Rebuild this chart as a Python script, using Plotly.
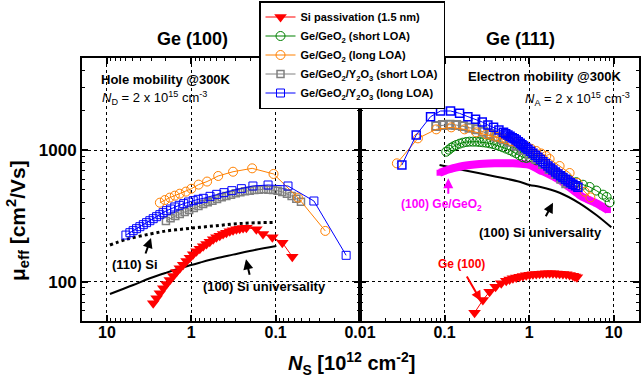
import plotly.graph_objects as go

# ---------------- Left panel: Ge(100) hole mobility ----------------
hole_si_pass_ns = [2.83, 2.58, 2.36, 2.15, 1.97, 1.80, 1.64, 1.50, 1.37, 1.25, 1.14, 1.04, 0.951, 0.869,
                   0.793, 0.724, 0.661, 0.604, 0.551, 0.504, 0.460, 0.420, 0.384, 0.350, 0.320, 0.292,
                   0.267, 0.2435, 0.2224, 0.1694, 0.1413, 0.1095, 0.0834, 0.0635]
hole_si_pass_mu = [68.5, 74.8, 81.6, 89.0, 96.0, 103.0, 110.5, 118.5, 126.3, 134.7, 143.6, 152.2, 161.4, 170.1,
                   178.2, 185.6, 193.3, 201.4, 209.8, 217.3, 223.7, 230.3, 235.7, 241.2, 245.5, 249.8,
                   252.7, 255.7, 257.2, 249.8, 230.3, 217.3, 197.9, 155.0]

hole_y2o3_long_ns = [5.96, 5.35, 4.89, 4.46, 4.07, 3.71, 3.39, 3.10, 2.83, 2.58, 2.36, 2.16, 1.97, 1.76, 1.57,
                     1.39, 1.23, 1.08, 0.95, 0.83, 0.72, 0.60, 0.50, 0.41, 0.33, 0.255, 0.186, 0.123,
                     0.0714, 0.0352, 0.0146]
hole_y2o3_long_mu = [226, 235.7, 244.1, 252.7, 261.7, 271.0, 280.7, 290.6, 301.0, 311.7, 322.8, 334.3, 346.2,
                     356.5, 369.2, 380.2, 391.4, 402.9, 412.4, 422.1, 429.5, 444.8, 460.7, 474.3, 491.2,
                     508.7, 533.0, 542.4, 533.0, 410.0, 158.6]

hole_y2o3_short_ns = [2.00, 1.76, 1.55, 1.37, 1.20, 1.06, 0.934, 0.823, 0.724, 0.638, 0.562, 0.495, 0.436,
                      0.384, 0.338, 0.297, 0.262, 0.231, 0.203, 0.179, 0.1575, 0.1387, 0.1221, 0.1075,
                      0.0947, 0.0834, 0.0734, 0.0647, 0.0569, 0.0501]
hole_y2o3_short_mu = [289, 303, 315, 327, 338, 350, 363, 376, 389, 401, 412, 425, 437, 448, 458, 469, 477,
                      486, 491, 497, 500, 503, 500, 497, 491, 480, 466, 448, 427, 405]

hole_geo2_long_ns = [2.36, 2.06, 1.80, 1.57, 1.37, 1.16, 1.00, 0.82, 0.65, 0.48, 0.32, 0.19, 0.106, 0.0544, 0.0258]
hole_geo2_long_mu = [398, 417, 435, 450, 466, 483, 508, 546, 576, 635, 684, 726, 658, 435, 243]

hole_si110_ns = [9.22, 5.85, 3.10, 1.97, 1.25, 0.793, 0.504, 0.320, 0.203, 0.1028]
hole_si110_mu = [190, 210, 230, 243, 251, 259, 266, 274, 279, 282]

hole_si100_ns = [9.22, 4.88, 3.10, 1.97, 1.25, 0.793, 0.504, 0.320, 0.203, 0.0982]
hole_si100_mu = [80.7, 94.4, 106.1, 117.2, 128.6, 139.5, 150.5, 160.5, 171.1, 186.7]

# ---------------- Right panel: Ge(111) electron mobility ----------------
elec_ge100_ns = [0.2265, 0.284, 0.3407, 0.4015, 0.4685, 0.5368, 0.5877, 0.6436, 0.705, 0.772, 0.845, 0.926,
                 1.014, 1.110, 1.217, 1.331, 1.457, 1.597, 1.748, 1.913, 2.099, 2.296, 2.512, 2.754, 3.015,
                 3.299, 3.48, 3.68]
elec_ge100_mu = [58.2, 72.6, 83.9, 91.6, 97.2, 101.8, 103.9, 106.1, 107.6, 109.1, 110.5, 111.8, 112.8, 113.8,
                 114.4, 115.0, 115.4, 115.8, 115.8, 115.8, 115.4, 115.0, 114.4, 113.8, 112.4, 111.1, 109.5, 108.0]

elec_geo2_short_ns = [0.1046, 0.1125, 0.120, 0.1278, 0.1374, 0.1505, 0.1648, 0.1805, 0.1976, 0.2164, 0.2370,
                      0.2596, 0.2842, 0.3113, 0.3408, 0.3733, 0.4088, 0.4476, 0.490, 0.537, 0.5877, 0.6437,
                      0.705, 0.772, 0.845, 0.926, 1.014, 1.216, 1.458, 1.748, 2.097, 2.514, 3.015, 3.615,
                      4.335, 5.20, 6.235, 7.48, 8.26, 8.97]
elec_geo2_short_mu = [971, 1006, 1041, 1066, 1091, 1117, 1137, 1150, 1157, 1157, 1157, 1150, 1144, 1137, 1124,
                      1111, 1091, 1072, 1048, 1024, 1000, 971, 943, 911, 880, 870, 880, 835, 790, 730, 672,
                      625, 592, 570, 545, 524, 492, 458, 440, 400]

elec_geo2_long_ns = [0.0273, 0.0484, 0.0797, 0.120, 0.1724, 0.2370, 0.3113, 0.3566, 0.4088, 0.4684, 0.537,
                     0.6152, 0.705, 0.808, 0.926, 1.061, 1.216, 1.393, 1.597, 1.748, 2.296, 3.015, 3.75,
                     4.54, 5.30]
elec_geo2_long_mu = [792, 1226, 1435, 1486, 1435, 1362, 1315, 1289, 1262, 1233, 1205, 1170, 1137, 1098, 1060,
                     1021, 983, 941, 900, 855, 756, 669, 562, 482, 437]

elec_y2o3_short_ns = [0.0797, 0.0956, 0.1146, 0.1374, 0.1648, 0.1976, 0.2370, 0.2842, 0.3408, 0.4088, 0.490,
                      0.5877, 0.705, 0.845, 1.014, 1.216, 1.458, 1.748, 2.097, 2.403, 2.754]
elec_y2o3_short_mu = [1521, 1548, 1557, 1548, 1521, 1478, 1435, 1378, 1323, 1262, 1205, 1157, 1079, 1000,
                      927, 855, 783, 717, 657, 606, 558]

elec_y2o3_long_ns = [0.0313, 0.0462, 0.0683, 0.0897, 0.1178, 0.1505, 0.1889, 0.2328, 0.2792, 0.3257, 0.380,
                     0.4395, 0.499, 0.529, 0.5616, 0.596, 0.632, 0.667, 0.705, 0.744, 0.786, 0.823, 0.861,
                     0.913, 0.969, 1.037, 1.11, 1.188, 1.272, 1.362, 1.458, 1.561, 1.671, 1.788, 1.914,
                     2.049, 2.194, 2.349, 2.514, 2.691, 2.88, 3.083, 3.30, 3.532, 3.78]
elec_y2o3_long_mu = [769, 1300, 1791, 1978, 1978, 1898, 1791, 1710, 1632, 1548, 1486, 1419, 1362, 1331, 1300,
                     1270, 1241, 1216, 1191, 1157, 1124, 1098, 1072, 1042, 1012, 977, 943, 911, 880, 847, 815,
                     785, 756, 730, 705, 681, 657, 637, 617, 599, 582, 565, 549, 535, 521]

elec_ge100_geo2_ns = [0.0873, 0.098, 0.1146, 0.135, 0.1647, 0.2, 0.2596, 0.33, 0.409, 0.5, 0.643, 0.8,
                      1.014, 1.331, 1.6, 2.296, 2.9, 3.96, 5.0, 6.24, 7.3, 8.56]
elec_ge100_geo2_mu = [672, 690, 714, 735, 756, 770, 783, 790, 793, 795, 793, 785, 769, 705, 670, 592, 530,
                      455, 420, 394, 372, 350]

elec_si100_ns = [0.0873, 0.1647, 0.409, 0.772, 1.014, 1.331, 2.296, 3.96, 6.24, 9.39]
elec_si100_mu = [769, 705, 627, 574, 542, 526, 474, 394, 321, 259]

# tick labels
left_tickvals = [10, 1, 0.1]
left_ticktext = ["10", "1", "0.1"]
right_tickvals = [0.01, 0.1, 1, 10]
right_ticktext = ["0.01", "0.1", "1", "10"]
y_tickvals = [100, 1000]
y_ticktext = ["100", "1000"]

FONT = "Liberation Sans, Arial, sans-serif"
RED = "#FF0000"
GREEN = "#008000"
ORANGE = "#FF8000"
GRAY = "#808080"
BLUE = "#0000FF"
MAGENTA = "#FF00FF"

fig = go.Figure()

# ---- left panel traces (x, y) ----
fig.add_trace(go.Scatter(x=hole_si100_ns, y=hole_si100_mu, mode="lines",
                         line=dict(color="black", width=2, shape="spline"),
                         showlegend=False, xaxis="x", yaxis="y"))
fig.add_trace(go.Scatter(x=hole_si110_ns, y=hole_si110_mu, mode="lines",
                         line=dict(color="black", width=3, dash="dot", shape="spline"),
                         showlegend=False, xaxis="x", yaxis="y"))
fig.add_trace(go.Scatter(x=hole_si_pass_ns, y=hole_si_pass_mu, mode="lines+markers", name="Si passivation (1.5 nm)",
                         line=dict(color=RED, width=1), marker=dict(symbol="triangle-down", size=11, color=RED),
                         legendgroup="red", legendrank=1, xaxis="x", yaxis="y"))
fig.add_trace(go.Scatter(x=[None], y=[None], mode="lines+markers", name="Ge/GeO<sub>2</sub> (short LOA)",
                         line=dict(color=GREEN, width=1),
                         marker=dict(symbol="circle-open", size=9, color=GREEN, line=dict(width=1)),
                         legendgroup="green", legendrank=2, xaxis="x", yaxis="y"))
fig.add_trace(go.Scatter(x=hole_y2o3_short_ns, y=hole_y2o3_short_mu, mode="lines+markers",
                         name="Ge/GeO<sub>2</sub>/Y<sub>2</sub>O<sub>3</sub> (short LOA)",
                         line=dict(color=GRAY, width=1),
                         marker=dict(symbol="square-open", size=7, color=GRAY, line=dict(width=1.5)),
                         legendgroup="gray", legendrank=4, xaxis="x", yaxis="y"))
fig.add_trace(go.Scatter(x=hole_geo2_long_ns, y=hole_geo2_long_mu, mode="lines+markers",
                         name="Ge/GeO<sub>2</sub> (long LOA)",
                         line=dict(color=ORANGE, width=1),
                         marker=dict(symbol="circle-open", size=9, color=ORANGE, line=dict(width=1)),
                         legendgroup="orange", legendrank=3, xaxis="x", yaxis="y"))
fig.add_trace(go.Scatter(x=hole_y2o3_long_ns, y=hole_y2o3_long_mu, mode="lines+markers",
                         name="Ge/GeO<sub>2</sub>/Y<sub>2</sub>O<sub>3</sub> (long LOA)",
                         line=dict(color=BLUE, width=1),
                         marker=dict(symbol="square-open", size=8, color=BLUE, line=dict(width=1)),
                         legendgroup="blue", legendrank=5, xaxis="x", yaxis="y"))

# ---- right panel traces (x2, y2) ----
fig.add_trace(go.Scatter(x=elec_si100_ns, y=elec_si100_mu, mode="lines",
                         line=dict(color="black", width=2, shape="spline"),
                         showlegend=False, xaxis="x2", yaxis="y2"))
fig.add_trace(go.Scatter(x=elec_ge100_geo2_ns, y=elec_ge100_geo2_mu, mode="lines+markers",
                         line=dict(color=MAGENTA, width=8, shape="spline"),
                         marker=dict(symbol="square", size=6, color=MAGENTA),
                         showlegend=False, xaxis="x2", yaxis="y2"))
fig.add_trace(go.Scatter(x=elec_ge100_ns, y=elec_ge100_mu, mode="lines+markers",
                         line=dict(color=RED, width=1), marker=dict(symbol="triangle-down", size=11, color=RED),
                         showlegend=False, legendgroup="red", xaxis="x2", yaxis="y2"))
fig.add_trace(go.Scatter(x=elec_geo2_short_ns, y=elec_geo2_short_mu, mode="lines+markers",
                         line=dict(color=GREEN, width=1),
                         marker=dict(symbol="circle-open", size=9, color=GREEN, line=dict(width=1)),
                         showlegend=False, legendgroup="green", xaxis="x2", yaxis="y2"))
fig.add_trace(go.Scatter(x=elec_y2o3_short_ns, y=elec_y2o3_short_mu, mode="lines+markers",
                         line=dict(color=GRAY, width=1),
                         marker=dict(symbol="square-open", size=8, color=GRAY, line=dict(width=2)),
                         showlegend=False, legendgroup="gray", xaxis="x2", yaxis="y2"))
fig.add_trace(go.Scatter(x=elec_geo2_long_ns, y=elec_geo2_long_mu, mode="lines+markers",
                         line=dict(color=ORANGE, width=1),
                         marker=dict(symbol="circle-open", size=9, color=ORANGE, line=dict(width=1)),
                         showlegend=False, legendgroup="orange", xaxis="x2", yaxis="y2"))
fig.add_trace(go.Scatter(x=elec_y2o3_long_ns, y=elec_y2o3_long_mu, mode="lines+markers",
                         line=dict(color=BLUE, width=1),
                         marker=dict(symbol="square-open", size=8, color=BLUE, line=dict(width=1.5)),
                         showlegend=False, legendgroup="blue", xaxis="x2", yaxis="y2"))

axis_common = dict(
    type="log", showline=True, linewidth=2, linecolor="black", mirror="allticks",
    ticks="inside", ticklen=6, tickwidth=1.5, tickcolor="black",
    showgrid=True, gridcolor="black", griddash="dot", gridwidth=1,
    zeroline=False, automargin=False,
    tickfont=dict(family=FONT, size=16, color="black", weight="bold"),
    minor=dict(ticks="inside", ticklen=3, tickwidth=1, tickcolor="black", dtick="D1", showgrid=False),
)

fig.update_layout(
    width=642, height=381,
    margin=dict(l=82, r=3, t=58, b=60, autoexpand=False),
    paper_bgcolor="white", plot_bgcolor="white",
    font=dict(family=FONT, color="black"),
    xaxis=dict(axis_common, domain=[0, 0.4991], range=[1.296, -2.0], anchor="y",
               tickmode="array", tickvals=left_tickvals, ticktext=left_ticktext, ticklabelstandoff=-4),
    xaxis2=dict(axis_common, domain=[0.4991, 1], range=[-2.0, 1.30], anchor="y2",
                tickmode="array", tickvals=right_tickvals, ticktext=right_ticktext, ticklabelstandoff=-4),
    yaxis=dict(axis_common, domain=[0, 1], range=[1.7016, 3.6986], anchor="x",
               tickmode="array", tickvals=y_tickvals, ticktext=y_ticktext,
               tickfont=dict(family=FONT, size=17, color="black", weight="bold")),
    yaxis2=dict(axis_common, domain=[0, 1], range=[1.7016, 3.6986], anchor="x2", matches="y",
                tickmode="array", tickvals=y_tickvals, showticklabels=False),
    legend=dict(x=0.3178, y=1.2167, xanchor="left", yanchor="top",
                bgcolor="white", bordercolor="black", borderwidth=1.5,
                font=dict(family=FONT, size=11, color="black", weight="bold"),
                tracegroupgap=0, itemwidth=30),
    showlegend=True,
)

def txt(x, y, text, size=13, bold=True, color="black", xanchor="center", angle=0):
    fig.add_annotation(x=x, y=y, xref="paper", yref="paper", text=text, showarrow=False,
                       xanchor=xanchor, yanchor="middle", textangle=angle,
                       font=dict(family=FONT, size=size, color=color, weight="bold" if bold else "normal"))

def arrow(x, y, ax, ay, color="black"):
    fig.add_annotation(x=x, y=y, xref="paper", yref="paper", text="", showarrow=True,
                       ax=ax, ay=ay, arrowhead=2, arrowsize=1, arrowwidth=2, arrowcolor=color,
                       standoff=0, startstandoff=0)

txt(0.1975, 1.0722, "Ge (100)", size=18)
txt(0.788, 1.0722, "Ge (111)", size=18)
txt(0.0305, 0.920, "Hole mobility @300K", size=13, xanchor="left")
txt(0.0323, 0.848, "<i>N</i><sub>D</sub> = 2 x 10<sup>15</sup> cm<sup>-3</sup>", size=13, bold=False, xanchor="left")
txt(0.9713, 0.929, "Electron mobility @300K", size=13, xanchor="right")
txt(0.9868, 0.843, "<i>N</i><sub>A</sub> = 2 x 10<sup>15</sup> cm<sup>-3</sup>", size=13, bold=False, xanchor="right")
txt(0.096, 0.213, "(110) Si", size=13)
txt(0.3285, 0.1304, "(100) Si universality", size=13)
txt(0.6463, 0.441, "(100) Ge/GeO<sub>2</sub>", size=12, color=MAGENTA)
txt(0.8223, 0.3384, "(100) Si universality", size=13)
txt(0.6822, 0.2167, "Ge (100)", size=12, color=RED)

arrow(0.1239, 0.3156, -6, 17)
arrow(0.2944, 0.2346, 4, 17)
arrow(0.6576, 0.5426, 0, 17, color=MAGENTA)
arrow(0.8456, 0.4498, -8, 15)
arrow(0.7163, 0.076, -15, -26, color=RED)

# axis titles
txt(0.483, -0.1597, "<i>N</i><sub>S</sub> [10<sup>12</sup> cm<sup>-2</sup>]", size=20)
txt(-0.1167, 0.384, "μ<sub>eff</sub> [cm<sup>2</sup>/Vs]", size=21, angle=-90)

fig.write_html("out.html", config={"displayModeBar": False},
               post_script="document.body.style.margin='0';document.body.style.padding='0';")
